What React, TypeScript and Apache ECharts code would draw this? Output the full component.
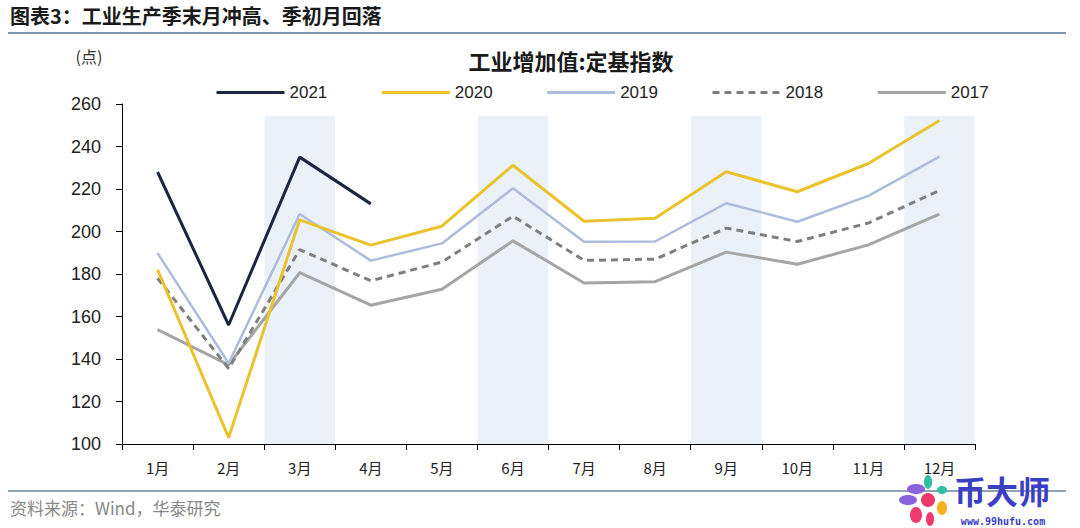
import React, { useEffect, useRef } from "react";
import * as echarts from "echarts";

const months = ["1月", "2月", "3月", "4月", "5月", "6月", "7月", "8月", "9月", "10月", "11月", "12月"];
const v2021 = [228, 156, 235, 213, null, null, null, null, null, null, null, null];
const v2020 = [182, 103, 205.5, 193.6, 202.5, 231.2, 204.8, 206.2, 228.1, 218.7, 232, 252.2];
const v2019 = [189.8, 138, 208.2, 186.3, 194.4, 220.3, 195.2, 195.3, 213.3, 204.6, 216.8, 235.2];
const v2018 = [178, 135.5, 191.5, 176.8, 185.6, 207.2, 186.4, 187, 201.6, 195.3, 204, 219.3];
const v2017 = [153.8, 137.2, 180.6, 165.3, 172.8, 195.6, 175.8, 176.4, 190.3, 184.6, 193.7, 208.2];
const shadedMonths = ["3月", "6月", "9月", "12月"];
const shadeTop = 254.5;
const yTicks = { min: 100, max: 260, interval: 20 };
const legendNames = ["2021", "2020", "2019", "2018", "2017"];

export default function App() {
  const ref = useRef<HTMLDivElement>(null);
  useEffect(() => {
    if (!ref.current) return;
    const chart = echarts.init(ref.current, null, { renderer: "svg" });
    const shadeData = months.map((m) => (shadedMonths.includes(m) ? shadeTop : null));
    const lineSeries = (name: string, data: any[], color: string, width: number, type: any, z: number) => ({
      name,
      type: "line",
      data,
      symbol: "none",
      z,
      connectNulls: false,
      lineStyle: { color, width, type },
      itemStyle: { color },
    });
    chart.setOption({
      animation: false,
      backgroundColor: "#ffffff",
      grid: { left: 122, right: 105, top: 104, bottom: 84 },
      legend: {
        data: legendNames,
        left: 210,
        top: 79,
        itemWidth: 68,
        itemHeight: 14,
        itemGap: 53,
        itemStyle: { opacity: 0, borderWidth: 0 },
        lineStyle: { width: 3 },
        textStyle: { fontFamily: "Arial, Liberation Sans", fontSize: 17, color: "#222" },
      },
      xAxis: {
        type: "category",
        data: months,
        boundaryGap: true,
        axisLine: { lineStyle: { color: "#000", width: 1 } },
        axisTick: { show: true, length: 6, lineStyle: { color: "#000" } },
        axisLabel: { color: "#222", fontSize: 15, margin: 16, fontFamily: "Noto Sans CJK SC, Arial" },
      },
      yAxis: {
        type: "value",
        min: yTicks.min,
        max: yTicks.max,
        interval: yTicks.interval,
        axisLine: { show: true, lineStyle: { color: "#000", width: 1 } },
        axisTick: { show: true, length: 6, lineStyle: { color: "#000" } },
        splitLine: { show: false },
        axisLabel: { color: "#222", fontSize: 18, margin: 21, fontFamily: "Arial, Liberation Sans" },
      },
      series: [
        {
          name: "shade",
          type: "bar",
          data: shadeData,
          barWidth: "99%",
          z: 1,
          itemStyle: { color: "#eaf1f9" },
          silent: true,
        },
        lineSeries("2017", v2017, "#a5a5a5", 3, "solid", 3),
        lineSeries("2018", v2018, "#7f7f7f", 3, [7, 5], 4),
        lineSeries("2019", v2019, "#adbcdb", 2.5, "solid", 5),
        lineSeries("2020", v2020, "#eac22c", 3, "solid", 6),
        lineSeries("2021", v2021, "#1c2640", 3, "solid", 7),
      ],
      graphic: [
        {
          type: "text",
          left: 10,
          top: 5,
          style: {
            text: "图表3：工业生产季末月冲高、季初月回落",
            font: "bold 20px 'Noto Sans CJK SC'",
            fill: "#1a1a1a",
          },
        },
        { type: "rect", shape: { x: 8, y: 32, width: 1058, height: 2 }, style: { fill: "#7d97ae" } },
        {
          type: "text",
          x: 571,
          y: 60,
          style: {
            text: "工业增加值:定基指数",
            font: "bold 22px 'Noto Sans CJK SC'",
            fill: "#1a1a1a",
            align: "center",
            verticalAlign: "middle",
          },
        },
        {
          type: "text",
          x: 89,
          y: 56,
          style: {
            text: "(点)",
            font: "16px 'Noto Sans CJK SC'",
            fill: "#333",
            align: "center",
            verticalAlign: "middle",
          },
        },
        { type: "rect", shape: { x: 8, y: 490, width: 1058, height: 2 }, style: { fill: "#8ea3b5" } },
        {
          type: "text",
          x: 10,
          y: 507,
          style: {
            text: "资料来源：Wind，华泰研究",
            font: "17px 'Noto Sans CJK SC'",
            fill: "#888",
            verticalAlign: "middle",
          },
        },
        // watermark flower
        { type: "circle", shape: { cx: 928, cy: 500, r: 7 }, style: { fill: "#ee3a6a" } },
        { type: "ellipse", shape: { cx: 916, cy: 489, rx: 9, ry: 5 }, style: { fill: "#8a63e0" } },
        { type: "ellipse", shape: { cx: 908, cy: 500, rx: 9, ry: 5 }, style: { fill: "#8a63e0" } },
        { type: "ellipse", shape: { cx: 928, cy: 482, rx: 4, ry: 7 }, style: { fill: "#2fc0a0" } },
        { type: "ellipse", shape: { cx: 942, cy: 490, rx: 5, ry: 4 }, style: { fill: "#2fc0a0" } },
        { type: "ellipse", shape: { cx: 942, cy: 508, rx: 5, ry: 7 }, style: { fill: "#f7b21c" } },
        { type: "ellipse", shape: { cx: 916, cy: 515, rx: 6, ry: 8 }, style: { fill: "#ee3a6a" } },
        { type: "ellipse", shape: { cx: 930, cy: 519, rx: 4, ry: 7 }, style: { fill: "#ee3a6a" } },
        {
          type: "text",
          x: 1002,
          y: 490,
          style: {
            text: "币大师",
            font: "bold 32px 'Noto Sans CJK SC'",
            fill: "#3b3fc4",
            align: "center",
            verticalAlign: "middle",
          },
        },
        {
          type: "text",
          x: 1003,
          y: 521,
          style: {
            text: "www.99hufu.com",
            font: "bold 10px 'DejaVu Sans Mono'",
            fill: "#3b3fc4",
            align: "center",
            verticalAlign: "middle",
          },
        },
      ],
    });
    return () => chart.dispose();
  }, []);
  return <div ref={ref} style={{ position: "fixed", left: 0, top: 0, width: 1080, height: 528 }} />;
}
